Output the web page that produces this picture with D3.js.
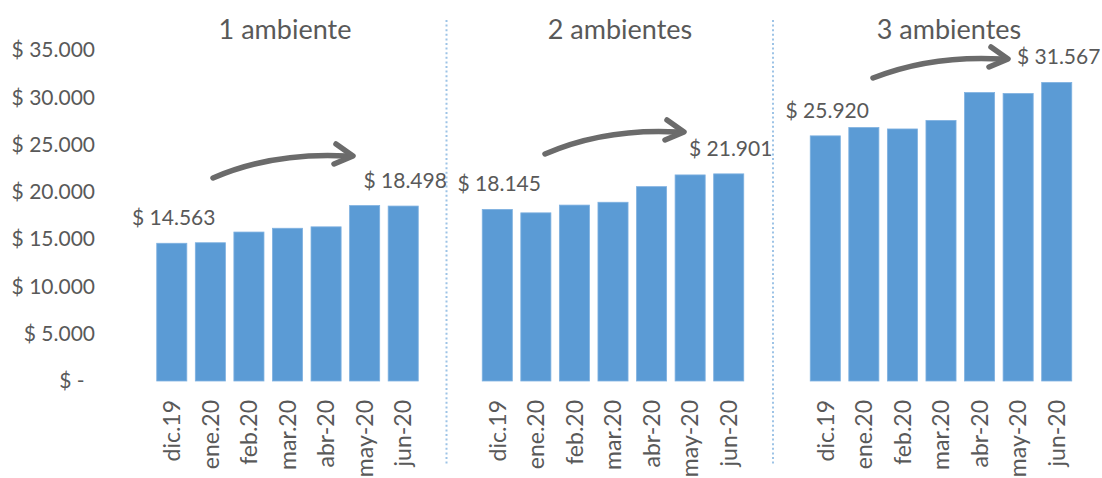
<!DOCTYPE html>
<html>
<head>
<meta charset="utf-8">
<script src="https://cdn.jsdelivr.net/npm/d3@7"></script>
<style>
  body { margin: 0; background: #fff; }
  text { font-family: Lato, "Open Sans", sans-serif; fill: #595959; }
</style>
</head>
<body>
<div id="chart"></div>
<script>
/* DATA */
var months = ["dic.19", "ene.20", "feb.20", "mar.20", "abr-20", "may-20", "jun-20"];
var titles = ["1 ambiente", "2 ambientes", "3 ambientes"];
var amb1 = [14563, 14620, 15750, 16150, 16300, 18550, 18498];
var amb2 = [18145, 17780, 18600, 18900, 20550, 21790, 21901];
var amb3 = [25920, 26800, 26650, 27550, 30500, 30400, 31567];
var yTicks = [0, 5000, 10000, 15000, 20000, 25000, 30000, 35000];

/* CONSTANTS */
var width = 1102, height = 478;
var baseY = 381, topY = 50;

// x range of each panel, title x, arrow start/tip (annotation, in px)
var panels = [
  {values: amb1, range: [152.5, 422.5], titleX: 285, arrow: [213, 178, 353, 156]},
  {values: amb2, range: [478, 748], titleX: 620, arrow: [545, 154, 684, 132]},
  {values: amb3, range: [806, 1076], titleX: 949, arrow: [873, 78, 1008, 59]}
];
var dividers = [446.5, 773];

var fmt = function(v) {
  if (v === 0) return "$ -\u2002";
  return "$ " + d3.format(",")(v).replace(/,/g, ".");
};

var yScale = d3.scaleLinear()
  .domain([0, 35000])
  .range([baseY, topY]);

var svg = d3.select("#chart").append("svg")
  .attr("width", width)
  .attr("height", height);

// y axis labels only
var yAxis = svg.append("g")
  .attr("transform", "translate(95,0)")
  .call(d3.axisLeft(yScale).tickValues(yTicks).tickFormat(fmt).tickSize(0).tickPadding(0));
yAxis.select(".domain").remove();
yAxis.selectAll("text")
  .style("font-family", "Lato, sans-serif")
  .style("font-size", "21px")
  .attr("fill", "#595959");

// dotted dividers
svg.selectAll(".divider")
  .data(dividers)
  .enter().append("line")
  .attr("class", "divider")
  .attr("x1", function(d) { return d; })
  .attr("x2", function(d) { return d; })
  .attr("y1", 20)
  .attr("y2", 466)
  .attr("stroke", "#9dc3e6")
  .attr("stroke-width", 2)
  .attr("stroke-dasharray", "2,2.6");

panels.forEach(function(p, i) {
  var xScale = d3.scaleBand()
    .domain(months)
    .range(p.range)
    .paddingInner(0.22)
    .paddingOuter(0.11);

  var rows = months.map(function(m, j) { return {month: m, value: p.values[j]}; });
  var g = svg.append("g");

  g.selectAll(".bar")
    .data(rows)
    .enter().append("rect")
    .attr("class", "bar")
    .attr("x", function(d) { return xScale(d.month); })
    .attr("y", function(d) { return yScale(d.value); })
    .attr("width", xScale.bandwidth())
    .attr("height", function(d) { return baseY - yScale(d.value); })
    .attr("fill", "#5b9bd5")
    .attr("stroke", "#7fb1e0")
    .attr("stroke-width", 0.8);

  // x labels
  var xAxis = g.append("g")
    .attr("transform", "translate(0," + baseY + ")")
    .call(d3.axisBottom(xScale).tickSize(0));
  xAxis.select(".domain").remove();
  xAxis.selectAll("text")
    .attr("transform", "rotate(-90)")
    .attr("x", -19)
    .attr("y", 0)
    .attr("dy", "0.36em")
    .style("text-anchor", "end")
    .style("font-family", "Lato, sans-serif")
    .style("font-size", "23px")
    .attr("fill", "#595959");

  // title
  g.append("text")
    .attr("x", p.titleX)
    .attr("y", 39)
    .style("text-anchor", "middle")
    .style("font-size", "27px")
    .text(titles[i]);

  // first and last value labels
  var ends = [rows[0], rows[rows.length - 1]];
  g.selectAll(".val")
    .data(ends)
    .enter().append("text")
    .attr("class", "val")
    .attr("x", function(d) { return xScale(d.month) + xScale.bandwidth() / 2 + 2; })
    .attr("y", function(d) { return yScale(d.value) - 18; })
    .style("text-anchor", "middle")
    .style("font-size", "21px")
    .text(function(d) { return fmt(d.value); });

  // curved arrow from first to last
  var a = p.arrow;
  var x0 = a[0], y0 = a[1], x1 = a[2], y1 = a[3];
  var ex = x1 - 6;
  var arrow = g.append("g")
    .attr("fill", "none")
    .attr("stroke", "#6b6b6b")
    .attr("stroke-width", 5.5)
    .attr("stroke-linecap", "round")
    .attr("stroke-linejoin", "round");
  arrow.append("path")
    .attr("d", "M" + x0 + "," + y0 + " Q" + (x0 + 0.45 * (ex - x0)) + "," + (y1 - 4) + " " + ex + "," + y1);
  arrow.append("path")
    .attr("d", "M" + (x1 - 17) + "," + (y1 - 12) + " L" + x1 + "," + y1 + " L" + (x1 - 19) + "," + (y1 + 8));
});
</script>
</body>
</html>
